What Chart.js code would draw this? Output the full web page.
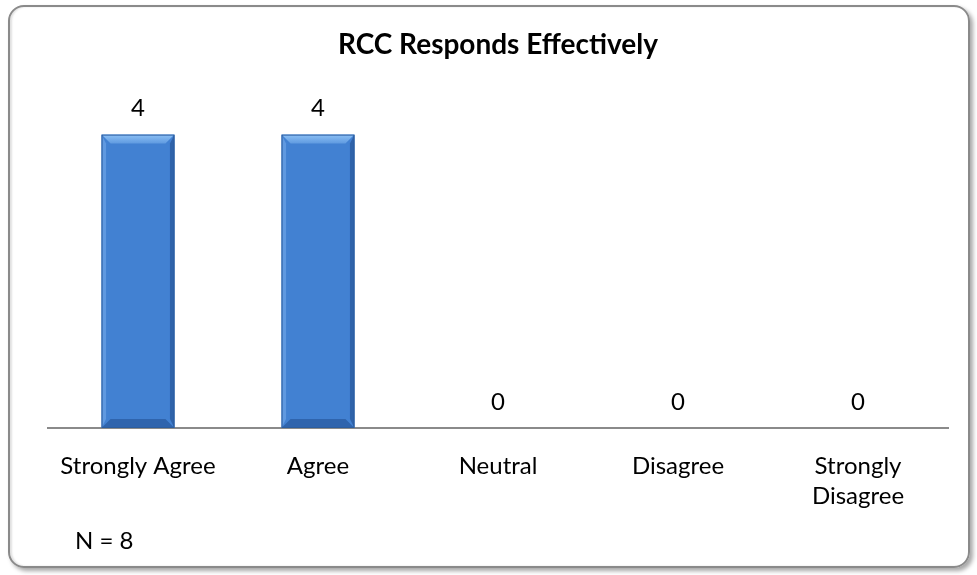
<!DOCTYPE html>
<html><head><meta charset="utf-8">
<script src="https://cdn.jsdelivr.net/npm/chart.js@4/dist/chart.umd.min.js"></script>
<style>
html,body{margin:0;padding:0;background:#fff;}
#wrap{position:relative;width:977px;height:575px;}
#frame{position:absolute;left:8px;top:5px;width:958px;height:559px;border:2px solid #8a8a8a;border-radius:16px;box-shadow:3px 3px 4px rgba(0,0,0,0.35), inset 2px 0 2px rgba(0,0,0,0.12);pointer-events:none;}
canvas{position:absolute;left:0;top:0;}
</style></head>
<body><div id="wrap"><canvas id="c" width="977" height="575"></canvas><div id="frame"></div></div>
<script>
const categories = ['Strongly Agree', 'Agree', 'Neutral', 'Disagree', ['Strongly', 'Disagree']];
const counts = [4, 4, 0, 0, 0];
const chartTitle = 'RCC Responds Effectively';
const noteText = 'N = 8';
const FONT = 'Lato, "Open Sans", sans-serif';

const bevelPlugin = {
  id: 'bevel',
  afterDatasetsDraw(chart) {
    const ctx = chart.ctx;
    const meta = chart.getDatasetMeta(0);
    meta.data.forEach((bar, i) => {
      if (counts[i] <= 0) return;
      const l = bar.x - bar.width / 2, r = bar.x + bar.width / 2, t = bar.y, b = bar.base;
      const d = 9;
      ctx.save();
      let g = ctx.createLinearGradient(0, t, 0, t + d);
      g.addColorStop(0, '#8cc0f5'); g.addColorStop(1, '#5f9ae0');
      ctx.fillStyle = g;
      ctx.beginPath(); ctx.moveTo(l, t); ctx.lineTo(r, t); ctx.lineTo(r - d, t + d); ctx.lineTo(l + d, t + d); ctx.closePath(); ctx.fill();
      ctx.fillStyle = 'rgba(100,155,225,0.9)';
      ctx.beginPath(); ctx.moveTo(l, t); ctx.lineTo(l + d/2, t + d); ctx.lineTo(l + d/2, b - d); ctx.lineTo(l, b); ctx.closePath(); ctx.fill();
      ctx.fillStyle = 'rgba(45,95,165,0.9)';
      ctx.beginPath(); ctx.moveTo(r, t); ctx.lineTo(r - d/2, t + d); ctx.lineTo(r - d/2, b - d); ctx.lineTo(r, b); ctx.closePath(); ctx.fill();
      ctx.fillStyle = '#2f64ad';
      ctx.beginPath(); ctx.moveTo(l, b); ctx.lineTo(r, b); ctx.lineTo(r - d, b - d); ctx.lineTo(l + d, b - d); ctx.closePath(); ctx.fill();
      ctx.strokeStyle = '#2c5d9e'; ctx.lineWidth = 1;
      ctx.strokeRect(l + 0.5, t + 0.5, bar.width - 1, b - t - 1);
      ctx.restore();
    });
  }
};

const labelPlugin = {
  id: 'vals',
  afterDraw(chart) {
    const ctx = chart.ctx;
    const meta = chart.getDatasetMeta(0);
    ctx.save();
    ctx.fillStyle = '#000';
    ctx.font = '24px ' + FONT;
    ctx.textAlign = 'center';
    ctx.textBaseline = 'middle';
    meta.data.forEach((bar, i) => {
      ctx.fillText(String(counts[i]), bar.x, bar.y - 26);
    });
    ctx.textAlign = 'left';
    ctx.fillText(noteText, 75, 541);
    ctx.restore();
  }
};

new Chart(document.getElementById('c'), {
  type: 'bar',
  data: {
    labels: categories,
    datasets: [{
      data: counts,
      backgroundColor: '#4281d2',
      borderWidth: 0,
      barPercentage: 0.405,
      categoryPercentage: 1.0
    }]
  },
  options: {
    responsive: false,
    animation: false,
    devicePixelRatio: 1,
    layout: { padding: { top: 5, left: 48, right: 29, bottom: 0 } },
    plugins: {
      legend: { display: false },
      tooltip: { enabled: false },
      title: {
        display: true,
        text: chartTitle,
        color: '#000',
        font: { family: FONT, size: 28, weight: 'bold', lineHeight: 1.2 },
        padding: { top: 23, bottom: 73 }
      }
    },
    scales: {
      x: {
        grid: { display: false, drawTicks: false },
        border: { display: true, color: '#8a8a8a', width: 2 },
        ticks: { color: '#000', font: { family: FONT, size: 24, lineHeight: 1.25 }, padding: 23, maxRotation: 0, autoSkip: false },
        afterFit(scale) { scale.height = 147; }
      },
      y: {
        display: false,
        min: 0, max: 4
      }
    }
  },
  plugins: [bevelPlugin, labelPlugin]
});
</script></body></html>
